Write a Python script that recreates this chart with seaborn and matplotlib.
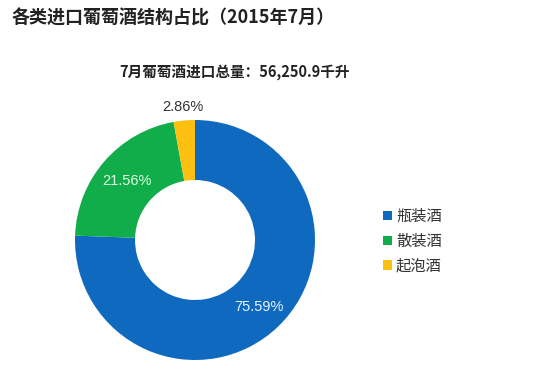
import numpy as np
import matplotlib
matplotlib.use("Agg")
import matplotlib.pyplot as plt
import seaborn as sns

sns.set_theme(style="white")
plt.rcParams['font.family'] = ['Noto Sans CJK SC', 'DejaVu Sans']

# data
categories = ['瓶装酒', '散装酒', '起泡酒']
shares = [75.59, 21.56, 2.86]
colors = ['#0F69BE', '#12AD4B', '#FDC010']
label_colors = ['#E6F4FF', '#DFFFE4', '#333333']

title = '各类进口葡萄酒结构占比（2015年7月）'
subtitle = '7月葡萄酒进口总量：56,250.9千升'

W, H = 542, 384
fig = plt.figure(figsize=(W / 100, H / 100), dpi=100)
fig.patch.set_facecolor('white')

# donut centred at (195, 240) px, radius 120 px
cx, cy, r = 195, 240, 120
ax = fig.add_axes([(cx - r) / W, (H - cy - r) / H, 2 * r / W, 2 * r / H])

wedges, _ = ax.pie(shares, colors=colors, startangle=90, counterclock=False,
                   radius=1.0, wedgeprops=dict(width=0.5, linewidth=0))
ax.set_xlim(-1, 1)
ax.set_ylim(-1, 1)
ax.set_aspect('equal')
ax.axis('off')

# percentage labels
dists = [0.77, 0.75, 1.11]
for w, val, d, c in zip(wedges, shares, dists, label_colors):
    ang = np.deg2rad((w.theta1 + w.theta2) / 2)
    ax.text(d * np.cos(ang), d * np.sin(ang), f'{val:.2f}%', ha='center', va='center',
            fontsize=10.5, color=c, family=['Liberation Sans', 'DejaVu Sans'], clip_on=False)

fig.text(12 / W, 1 - 18 / H, title, fontsize=13, fontweight='bold', color='#222222',
         ha='left', va='center')
fig.text(234 / W, 1 - 72 / H, subtitle, fontsize=10.5, fontweight='bold', color='#222222',
         ha='center', va='center')

leg = fig.legend(wedges, categories, loc='upper left', bbox_to_anchor=(377 / W, 1 - 202 / H),
                 frameon=False, fontsize=11, handlelength=0.55, handleheight=0.55,
                 handletextpad=0.3, labelspacing=0.5, borderaxespad=0)
for t in leg.get_texts():
    t.set_color('#333333')

fig.savefig('out.png', dpi=100, facecolor='white')
